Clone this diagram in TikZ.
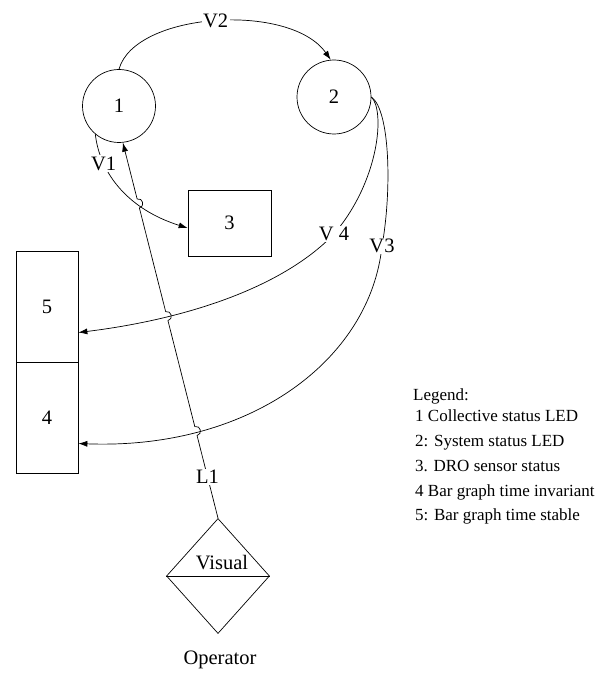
\documentclass[tikz,border=0pt]{standalone}
\usepackage{fontspec}
\setmainfont{Liberation Serif}
\usetikzlibrary{shapes.geometric,arrows.meta,calc}
\begin{document}
\begin{tikzpicture}[x=1pt,y=-1pt,
  every node/.style={font=\fontsize{20.5}{24}\selectfont},
  ln/.style={line width=0.7pt},
  arr/.style={ln,-{Latex[length=9pt,width=6pt]}},
  led/.style={circle,draw,ln,minimum size=73pt,inner sep=0pt},
  boxn/.style={rectangle,draw,ln,inner sep=0pt},
  lbl/.style={fill=white,inner sep=1.5pt},
  leg/.style={anchor=base west,inner sep=0pt,font=\fontsize{17}{19}\selectfont}]
\useasboundingbox (0,0) rectangle (612,674);

% nodes
\node[led] (c1) at (119,106) {1};
\node[led,minimum size=74pt] (c2) at (334,97) {2};
\node[boxn,minimum width=83pt,minimum height=66pt] (b3) at (229.5,223) {3};
\node[boxn,minimum width=62pt,minimum height=111pt] (b5) at (47,306.5) {5};
\node[boxn,minimum width=62pt,minimum height=111pt] (b4) at (47,417.5) {4};
\node[diamond,draw,ln,minimum width=103pt,minimum height=115pt,inner sep=0pt] (op) at (218,576) {};
\draw[ln] (op.west) -- (op.east);
\node (vis) at (222,563) {Visual};
\node (opl) at (220,660) {Operator};

% V2
\draw[arr] (c1.north) .. controls (135,12) and (290,2) .. (c2.95) node[lbl,pos=0.5] {V2};
% V1
\draw[arr] (c1.230) .. controls (100,175) and (130,210) .. ($(b3.west)+(0,5)$) node[lbl,pos=0.25] {V1};
% V4
\draw[arr] (c2.east) .. controls (385,110) and (380,180) .. (334,234) node[lbl] {V 4}
  .. controls (280,290) and (180,320) .. ($(b5.east)+(0,26)$);
% V3
\draw[arr] (c2.east) .. controls (390,110) and (392,190) .. (382,246) node[lbl] {V3}
  .. controls (370,360) and (250,450) .. ($(b4.east)+(0,26)$);

% L1 with hops
\coordinate (la) at (op.north);
\coordinate (lb) at (c1.-84);
\path (la) -- (lb)
  coordinate[pos=0.220] (h1a) coordinate[pos=0.244] (h1b)
  coordinate[pos=0.526] (h2a) coordinate[pos=0.550] (h2b)
  coordinate[pos=0.826] (h3a) coordinate[pos=0.850] (h3b);
\draw[arr] (la) -- node[lbl] (l1) {L1} (h1a)
  .. controls ($(h1a)!6pt!-90:(lb)$) and ($(h1b)!6pt!90:(la)$) .. (h1b) -- (h2a)
  .. controls ($(h2a)!6pt!-90:(lb)$) and ($(h2b)!6pt!90:(la)$) .. (h2b) -- (h3a)
  .. controls ($(h3a)!6pt!-90:(lb)$) and ($(h3b)!6pt!90:(la)$) .. (h3b) -- (lb);

% legend
\node[leg] (lg0) at (413,400) {Legend:};
\node[leg] (lg1) at (415,421) {1 Collective status LED};
\node[leg] (lg2) at (415,446) {2: System status LED};
\node[leg] (lg3) at (415,471) {3. DRO sensor status};
\node[leg] (lg4) at (415,496) {4 Bar graph time invariant};
\node[leg] (lg5) at (415,520) {5: Bar graph time stable};
\end{tikzpicture}
\end{document}
